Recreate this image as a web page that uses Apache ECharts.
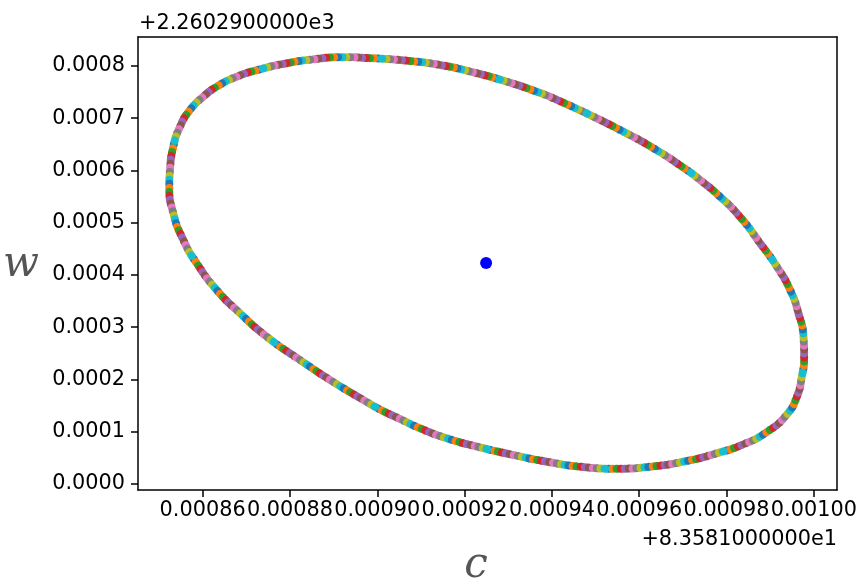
<!DOCTYPE html>
<html>
<head>
<meta charset="utf-8">
<script src="https://cdn.jsdelivr.net/npm/echarts@6/dist/echarts.min.js"></script>
<style>
  html, body { margin: 0; padding: 0; background: #fff; }
  #chart { width: 857px; height: 580px; }
</style>
</head>
<body>
<div id="chart"></div>
<script>
// offsets from +8.3581000000e1 (c) and +2.2602900000e3 (w), read along the ellipse
const cOffset = [
  0.00094800, 0.00095563, 0.00096326, 0.00097091, 0.00097395, 0.00097808,
  0.00098312, 0.00098770, 0.00099153, 0.00099457, 0.00099648, 0.00099762,
  0.00099778, 0.00099725, 0.00099611, 0.00099382, 0.00098923, 0.00098387,
  0.00097778, 0.00097013, 0.00096250, 0.00095487, 0.00094646, 0.00093883,
  0.00093118, 0.00092355, 0.00091592, 0.00090981, 0.00090522, 0.00090064,
  0.00089682, 0.00088994, 0.00088231, 0.00087469, 0.00086857, 0.00086323,
  0.00085865, 0.00085558, 0.00085329, 0.00085237, 0.00085253, 0.00085329,
  0.00085482, 0.00085711, 0.00086016, 0.00086323, 0.00086781, 0.00087315,
  0.00087927, 0.00088536, 0.00089148, 0.00089911, 0.00090676, 0.00091439,
  0.00092202, 0.00092967, 0.00093654, 0.00094035, 0.00094800
];
const wOffset = [
  0.0007091, 0.0006775, 0.0006425, 0.0006010, 0.0005818, 0.0005531,
  0.0005110, 0.0004607, 0.0004159, 0.0003713, 0.0003267, 0.0002819,
  0.0002436, 0.0002054, 0.0001671, 0.0001330, 0.0000995, 0.0000760,
  0.0000588, 0.0000427, 0.0000331, 0.0000293, 0.0000331, 0.0000427,
  0.0000555, 0.0000702, 0.0000875, 0.0001066, 0.0001244, 0.0001426,
  0.0001608, 0.0001952, 0.0002373, 0.0002819, 0.0003267, 0.0003713,
  0.0004224, 0.0004670, 0.0005181, 0.0005690, 0.0006010, 0.0006456,
  0.0006838, 0.0007158, 0.0007413, 0.0007604, 0.0007795, 0.0007937,
  0.0008052, 0.0008128, 0.0008167, 0.0008147, 0.0008102, 0.0008019,
  0.0007879, 0.0007700, 0.0007508, 0.0007382, 0.0007091
];
const centerC = [0.00092493];
const centerW = [0.0004230];

const xTicks = [0.00086, 0.00088, 0.00090, 0.00092, 0.00094, 0.00096, 0.00098, 0.00100];
const yTicks = [0, 0.0001, 0.0002, 0.0003, 0.0004, 0.0005, 0.0006, 0.0007, 0.0008];
const xOffsetText = "+8.3581000000e1";
const yOffsetText = "+2.2602900000e3";
const xName = "c";
const yName = "w";

const tab10 = ["#1f77b4", "#ff7f0e", "#2ca02c", "#d62728", "#9467bd",
               "#8c564b", "#e377c2", "#7f7f7f", "#bcbd22", "#17becf"];

const font = "DejaVu Sans";
const ellipse = cOffset.map((c, i) => [c, wOffset[i]]);

// the ring of dots: one dashed copy of the path per dot slot, round caps make the dots
const dotStep = 4.0;
const nSlots = 30;
const series = [];
for (let j = 0; j < nSlots; j++) {
  series.push({
    type: "line",
    data: ellipse,
    smooth: 0.55,
    symbol: "none",
    silent: true,
    lineStyle: {
      width: 8,
      color: tab10[j % 10],
      cap: "round",
      type: [0.5, dotStep * nSlots - 0.5],
      dashOffset: -(nSlots - 1 - j) * dotStep,
    },
  });
}
series.push({
  type: "scatter",
  data: centerC.map((c, i) => [c, centerW[i]]),
  symbolSize: 12,
  itemStyle: { color: "#0000ff", opacity: 1 },
  silent: true,
});

const axisLineStyle = { color: "#000", width: 1.5 };
const nameStyle = { font: 'italic 42px "DejaVu Serif"', fill: "#555", align: "center", verticalAlign: "middle" };
const option = {
  animation: false,
  grid: { left: 138, top: 37, right: 20, bottom: 90, containLabel: false, outerBoundsMode: "none" },
  xAxis: [
    {
      type: "value",
      min: 0.0008452,
      max: 0.0010053,
      axisLine: { show: true, onZero: false, lineStyle: axisLineStyle },
      axisTick: { show: true, length: 7, customValues: xTicks, lineStyle: axisLineStyle },
      axisLabel: {
        customValues: xTicks,
        showMinLabel: true, showMaxLabel: true, hideOverlap: false,
        formatter: (v) => v.toFixed(5),
        fontFamily: font, fontSize: 20.8, color: "#000", margin: 10,
      },
      splitLine: { show: false },
    },
    {
      type: "value", position: "top",
      min: 0.0008452, max: 0.0010053,
      axisLine: { show: true, onZero: false, lineStyle: axisLineStyle },
      axisTick: { show: false }, axisLabel: { show: false }, splitLine: { show: false },
    },
  ],
  yAxis: [
    {
      type: "value",
      min: -0.0000115,
      max: 0.0008555,
      axisLine: { show: true, onZero: false, lineStyle: axisLineStyle },
      axisTick: { show: true, length: 7, customValues: yTicks, lineStyle: axisLineStyle },
      axisLabel: {
        customValues: yTicks,
        showMinLabel: true, showMaxLabel: true, hideOverlap: false,
        formatter: (v) => v.toFixed(4),
        fontFamily: font, fontSize: 20.8, color: "#000", margin: 13,
      },
      splitLine: { show: false },
    },
    {
      type: "value", position: "right",
      min: -0.0000115, max: 0.0008555,
      axisLine: { show: true, onZero: false, lineStyle: axisLineStyle },
      axisTick: { show: false }, axisLabel: { show: false }, splitLine: { show: false },
    },
  ],
  graphic: [
    {
      type: "text", left: 139, top: 13,
      style: { text: yOffsetText, font: '20.8px "DejaVu Sans"', fill: "#000" },
    },
    {
      type: "text", right: 20, top: 529,
      style: { text: xOffsetText, font: '20.8px "DejaVu Sans"', fill: "#000" },
    },
    { type: "text", x: 21, y: 265, style: Object.assign({ text: yName }, nameStyle) },
    { type: "text", x: 476, y: 566, style: Object.assign({ text: xName }, nameStyle) },
  ],
  series: series,
};

const myChart = echarts.init(document.getElementById("chart"));
myChart.setOption(option);
</script>
</body>
</html>
